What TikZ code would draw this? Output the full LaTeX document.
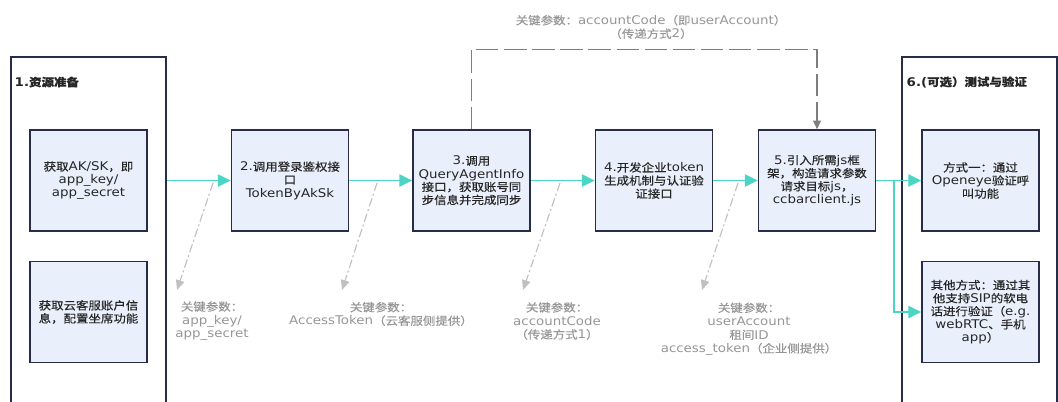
\documentclass[tikz,border=0pt]{standalone}
\usepackage{fontspec}
\setmainfont{DejaVu Sans}[FakeStretch=1.12]
\newfontfamily\hanfont{Noto Sans CJK SC}[Scale=0.93,FakeStretch=1.12,FakeBold=0.4]
\usetikzlibrary{arrows.meta}

% Han characters and full-width punctuation go to the CJK font
\newXeTeXintercharclass\hanclass
\newcommand\hanrange[2]{\count255=#1 \loop\XeTeXcharclass\count255=\hanclass
  \advance\count255 by 1\relax\ifnum\count255<#2\repeat}
\hanrange{"3000}{"3040}
\hanrange{"4E00}{"A000}
\hanrange{"FF00}{"FFF0}
\XeTeXinterchartokenstate=1
\XeTeXinterchartoks 0 \hanclass = {\hanfont}
\XeTeXinterchartoks 4095 \hanclass = {\hanfont}
\XeTeXinterchartoks \hanclass 0 = {\rmfamily}
\XeTeXinterchartoks \hanclass 4095 = {\rmfamily}

\definecolor{boxline}{RGB}{38,44,74}
\definecolor{boxfill}{RGB}{233,240,252}
\definecolor{flowteal}{RGB}{76,212,196}
\definecolor{loopgray}{RGB}{125,125,125}
\definecolor{keygray}{RGB}{192,192,192}
\definecolor{keytext}{RGB}{150,150,150}

\begin{document}
\begin{tikzpicture}[
  x=0.025cm, y=-0.025cm,
  every node/.style={font=\fontsize{8.5}{9.3}\selectfont, align=center, inner sep=1pt},
  stepbox/.style={draw=boxline, fill=boxfill, line width=1.2pt, text=black!85,
    minimum width=2.925cm, minimum height=2.525cm},
  stage/.style={draw=boxline, line width=1.2pt, minimum width=3.875cm, minimum height=8.825cm},
  title/.style={anchor=west, font=\fontsize{8.5}{9.3}\selectfont\bfseries, text=black!85},
  flow/.style={draw=flowteal, line width=1.4pt, -{Triangle[length=9pt,width=8.5pt]}},
  loopline/.style={draw=loopgray, line width=0.9pt, dash pattern=on 16pt off 4pt,
    -{Triangle[length=6pt,width=5.5pt]}},
  keyline/.style={draw=keygray, line width=0.8pt, dash pattern=on 6pt off 2pt on 1.5pt off 2pt,
    -{Triangle[length=7pt,width=6pt]}},
  keynote/.style={text=keytext, font=\fontsize{8.5}{9.6}\selectfont}
]
\useasboundingbox (0,0) rectangle (1058,401);

% the two open containers
\node[stage] (prep) at (88.5,233.5) {};
\node[stage] (test) at (979.5,233.5) {};
\node[title] (prepTitle) at (13,82) {1.资源准备};
\node[title] (testTitle) at (905,82) {6.(可选）测试与验证};

% steps
\node[stepbox] (aksk) at (88.5,180.5) {获取AK/SK，即\\app\_key/\\app\_secret};
\node[stepbox] (account) at (88.5,312) {获取云客服账户信\\息，配置坐席功能};
\node[stepbox] (login) at (290,180.5) {2.调用登录鉴权接\\口\\TokenByAkSk};
\node[stepbox] (query) at (471.5,180.5) {3.调用\\QueryAgentInfo\\接口，获取账号同\\步信息并完成同步};
\node[stepbox] (token) at (654,180.5) {4.开发企业token\\生成机制与认证验\\证接口};
\node[stepbox] (jsframe) at (817,180.5) {5.引入所需js框\\架，构造请求参数\\请求目标js，\\ccbarclient.js};
\node[stepbox] (openeye) at (980.5,180.5) {方式一：通过\\Openeye验证呼\\叫功能};
\node[stepbox] (softphone) at (980.5,312) {其他方式：通过其\\他支持SIP的软电\\话进行验证（e.g.\\webRTC、手机\\app）};

% main flow
\draw[flow] (prep.east |- login) -- (login);
\draw[flow] (login) -- (query);
\draw[flow] (query) -- (token);
\draw[flow] (token) -- (jsframe);
\draw[flow] (jsframe) -- (openeye);
\coordinate (split) at (894,180.5);
\draw[flow] (split) |- (softphone);

% accountCode passed over the top
\draw[loopline] (query.north) -- ++(0,-80) -| (jsframe.north);
\node[keynote] (codeNote) at (651,27) {关键参数：accountCode（即userAccount）\\（传递方式2）};

% key parameters of each call
\coordinate (k1s) at (213,183);
\coordinate (k1e) at (177,290);
\coordinate (k2s) at (377,183);
\coordinate (k2e) at (342,290);
\coordinate (k3s) at (560,183);
\coordinate (k3e) at (523,290);
\coordinate (k4s) at (738,183);
\coordinate (k4e) at (702,290);
\draw[keyline] (k1s) -- (k1e);
\draw[keyline] (k2s) -- (k2e);
\draw[keyline] (k3s) -- (k3e);
\draw[keyline] (k4s) -- (k4e);
\node[keynote] (k1note) at (212,321) {关键参数：\\app\_key/\\app\_secret};
\node[keynote] (k2note) at (381,314) {关键参数：\\AccessToken（云客服侧提供）};
\node[keynote] (k3note) at (557,321) {关键参数：\\accountCode\\（传递方式1）};
\node[keynote] (k4note) at (749,329) {关键参数：\\userAccount\\租间ID\\access\_token（企业侧提供）};

\end{tikzpicture}
\end{document}
